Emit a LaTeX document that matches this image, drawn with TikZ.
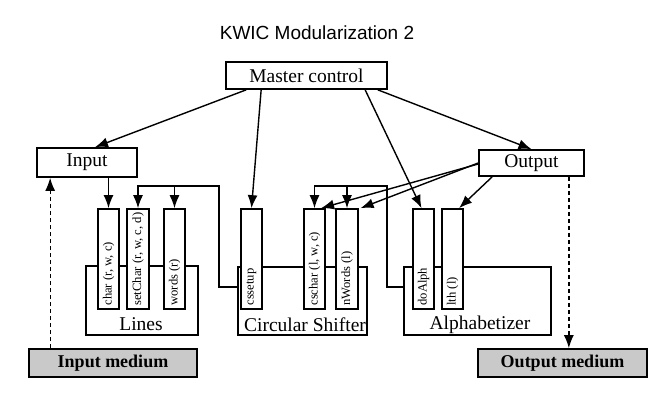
\documentclass[tikz,border=0pt]{standalone}
\usepackage{fontspec}
\usepackage{graphicx}
\setmainfont{Liberation Serif}
\newfontfamily\titlefont{Liberation Sans}
\usetikzlibrary{arrows.meta,calc}
\newcommand{\vlabtext}[1]{\rotatebox{90}{\makebox[93pt][l]{\fontsize{12.6}{14}\selectfont #1}}}
\begin{document}
\begin{tikzpicture}[x=1pt,y=-1pt,
  box/.style={draw,line width=1.7pt,fill=white,inner sep=0pt,font=\fontsize{19.5}{22}\selectfont},
  medbox/.style={draw,line width=1.7pt,fill=gray!42,inner sep=0pt,font=\fontsize{18}{21}\selectfont\bfseries},
  modbox/.style={draw,line width=1.7pt,fill=white},
  tallbox/.style={draw,line width=1.7pt,fill=white,inner sep=0pt,minimum width=21.5pt,minimum height=100pt},
  modlab/.style={anchor=base,inner sep=0pt,font=\fontsize{19.5}{22}\selectfont},
  arr/.style={line width=1.4pt,-{Latex[length=13pt,width=10pt]}},
  darr/.style={line width=1.3pt,dashed,dash pattern=on 4pt off 3pt,-{Latex[length=13pt,width=10pt]}}
]
\useasboundingbox (0,0) rectangle (662,408);
% title
\node[font=\titlefont\fontsize{19}{22}\selectfont] (title) at (317,33) {KWIC Modularization 2};
% top boxes
\node[box,minimum width=161pt,minimum height=27pt] (mc) at (306.5,75.5) {Master control};
\node[box,minimum width=100pt,minimum height=29pt] (in) at (87,162.5) {Input};
\node[box,minimum width=105pt,minimum height=26pt] (out) at (531.5,163) {Output};
% media
\node[medbox,minimum width=168pt,minimum height=28pt] (im) at (113,363) {Input medium};
\node[medbox,minimum width=169pt,minimum height=28pt] (om) at (562.5,363) {Output medium};
% modules
\draw[modbox] (86,266) rectangle (198,335);
\coordinate (linesNW) at (86,266);
\draw[modbox] (238,267) rectangle (367,335);
\coordinate (csNW) at (238,267);
\draw[modbox] (404,267) rectangle (551,335);
\coordinate (alNW) at (404,267);
\node[modlab] (lineslab) at (141,330) {Lines};
\node[modlab] (cslab) at (305,331) {Circular Shifter};
\node[modlab] (allab) at (480,329.5) {Alphabetizer};
% tall boxes with vertical labels
\node[tallbox] (char) at (108.5,259) {\vlabtext{char (r, w, c)}};
\node[tallbox] (setchar) at (138,259) {\vlabtext{setChar (r, w, c, d)}};
\node[tallbox] (words) at (174.5,259) {\vlabtext{words (r)}};
\node[tallbox] (cssetup) at (251.5,259) {\vlabtext{cssetup}};
\node[tallbox] (cschar) at (314.5,259) {\vlabtext{cschar (l, w, c)}};
\node[tallbox] (nwords) at (347,259) {\vlabtext{nWords (l)}};
\node[tallbox] (doalph) at (423.5,259) {\vlabtext{doAlph}};
\node[tallbox] (lth) at (452.5,259) {\vlabtext{lth (l)}};
% master control arrows
\draw[arr] ([xshift=21pt]mc.south west) -- ([xshift=8pt]in.north);
\draw[arr] ([xshift=36pt]mc.south west) -- (cssetup.north);
\draw[arr] ([xshift=140pt]mc.south west) -- ([xshift=-2pt]doalph.north);
\draw[arr] ([xshift=-10pt]mc.south east) -- (out.north);
% input to char
\draw[arr] (in.south -| char.north) -- (char.north);
% brackets
\coordinate (lb) at (219,186);
\coordinate (cb) at (387,186);
\draw[arr,line width=1.2pt] ([yshift=-20pt]csNW) -| (lb) -| (setchar.north);
\draw[arr,line width=1.2pt] (words.north |- lb) -- (words.north);
\draw[arr,line width=1.2pt] ([yshift=-20pt]alNW) -| (cb) -| (cschar.north);
\draw[arr,line width=1.2pt] (nwords.north |- cb) -- (nwords.north);
% output arrows
\draw[arr] ([yshift=-1pt]out.west) -- ([xshift=-5pt]cschar.north east);
\draw[arr] (out.west) -- ([xshift=2pt]nwords.north east);
\draw[arr] ([xshift=14pt]out.south west) -- ([xshift=-5pt]lth.north east);
% media dashed
\draw[darr] ([xshift=22pt]im.north west) -- ([xshift=22pt]im.north west |- in.south);
\draw[darr] ([xshift=-16pt]out.south east) -- ([xshift=-16pt]out.south east |- om.north);
\end{tikzpicture}
\end{document}
